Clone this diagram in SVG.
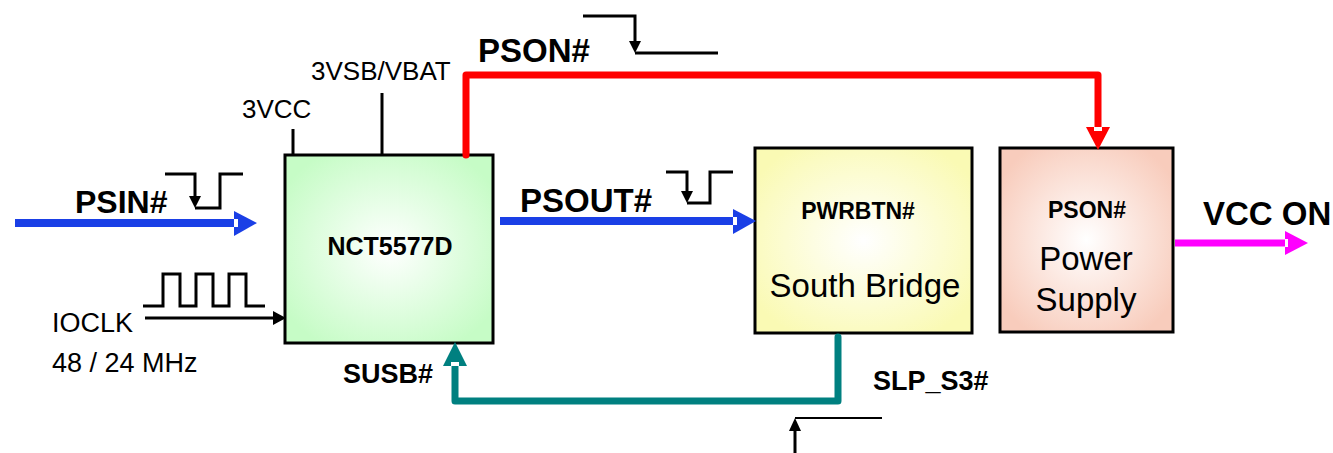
<svg xmlns="http://www.w3.org/2000/svg" width="1333" height="453" viewBox="0 0 1333 453">
<defs>
<radialGradient id="gGreen" cx="0.5" cy="0.5" r="0.6"><stop offset="0" stop-color="#FFFFFF"/><stop offset="1" stop-color="#C6FCC6"/></radialGradient>
<radialGradient id="gYellow" cx="0.5" cy="0.5" r="0.6"><stop offset="0" stop-color="#FFFFFF"/><stop offset="1" stop-color="#FAFAB4"/></radialGradient>
<radialGradient id="gPink" cx="0.5" cy="0.5" r="0.6"><stop offset="0" stop-color="#FFFFFF"/><stop offset="1" stop-color="#F8CCBC"/></radialGradient>
<style>
.box{stroke:#000;stroke-width:3}
.t{font-family:"Liberation Sans",Arial,sans-serif;fill:#000}
.b{font-weight:bold}
.thin{fill:none;stroke:#000;stroke-width:3}
.notch{fill:#fff}
</style>
</defs>
<rect width="1333" height="453" fill="#fff"/>

<g id="nct5577d">
<rect class="box" x="285" y="155" width="208" height="188" fill="url(#gGreen)"/>
<text class="t b" x="390" y="255" font-size="25" text-anchor="middle">NCT5577D</text>
<line class="thin" x1="293" y1="129" x2="293" y2="155"/>
<line class="thin" x1="382" y1="93" x2="382" y2="155"/>
<text class="t" x="242" y="118" font-size="26">3VCC</text>
<text class="t" x="311" y="80" font-size="26">3VSB/VBAT</text>
</g>

<g id="south-bridge">
<rect class="box" x="755" y="148" width="217" height="185" fill="url(#gYellow)"/>
<text class="t b" x="858" y="219" font-size="23" text-anchor="middle">PWRBTN#</text>
<text class="t" x="865" y="297" font-size="33" text-anchor="middle">South Bridge</text>
</g>

<g id="power-supply">
<rect class="box" x="1000" y="148" width="173" height="184" fill="url(#gPink)"/>
<text class="t b" x="1087" y="218" font-size="23" text-anchor="middle">PSON#</text>
<text class="t" x="1086" y="270" font-size="33" text-anchor="middle">Power</text>
<text class="t" x="1086" y="311" font-size="33" text-anchor="middle">Supply</text>
</g>

<g id="connectors">
<!-- PSIN# -->
<line x1="15" y1="223" x2="236" y2="223" stroke="#1A3FE6" stroke-width="8"/>
<polygon points="234,211 234,236 257,223" fill="#1A3FE6"/>
<rect class="notch" x="234" y="219" width="4" height="8"/>
<text class="t b" x="75" y="213" font-size="32">PSIN#</text>
<polyline class="thin" points="165,174 195,174 195,200"/>
<polygon points="189,196 201,196 195,208" fill="#000"/>
<polyline class="thin" points="195,208 220,208 220,174 243,174"/>

<!-- IOCLK -->
<line x1="145" y1="318" x2="276" y2="318" stroke="#000" stroke-width="3"/>
<polygon points="273,311 273,325 286,318" fill="#000"/>
<polyline class="thin" points="143,306 163,306 163,274 180,274 180,306 196,306 196,274 213,274 213,306 229,306 229,274 246,274 246,306 265,306"/>
<text class="t" x="52" y="332" font-size="27">IOCLK</text>
<text class="t" x="52" y="372" font-size="27">48 / 24 MHz</text>

<!-- PSON# red -->
<polyline points="466,155 466,75 1098,75 1098,128" fill="none" stroke="#FF0000" stroke-width="7" stroke-linejoin="round" stroke-linecap="round"/>
<polygon points="1086,127 1110,127 1098,150" fill="#FF0000"/>
<rect class="notch" x="1094" y="127" width="8" height="4"/>
<text class="t b" x="478" y="62" font-size="33">PSON#</text>
<polyline class="thin" points="583,16 635,16 635,44"/>
<polygon points="629,41 641,41 635,53" fill="#000"/>
<polyline class="thin" points="635,53 718,53"/>

<!-- PSOUT# -->
<line x1="500" y1="221" x2="735" y2="221" stroke="#1A3FE6" stroke-width="8"/>
<polygon points="733,209 733,234 756,221" fill="#1A3FE6"/>
<rect class="notch" x="733" y="217" width="4" height="8"/>
<text class="t b" x="520" y="212" font-size="33">PSOUT#</text>
<polyline class="thin" points="666,172 687,172 687,194"/>
<polygon points="681,191 693,191 687,203" fill="#000"/>
<polyline class="thin" points="687,203 710,203 710,172 733,172"/>

<!-- SLP_S3# / SUSB# teal -->
<polyline points="838,337 838,401 455,401 455,366" fill="none" stroke="#008080" stroke-width="7" stroke-linejoin="round" stroke-linecap="round"/>
<polygon points="443,366 467,366 455,342" fill="#008080"/>
<rect class="notch" x="451" y="362" width="8" height="4"/>
<text class="t b" x="343" y="383" font-size="27">SUSB#</text>
<text class="t b" x="873" y="390" font-size="27">SLP_S3#</text>
<line x1="795" y1="418" x2="882" y2="418" stroke="#000" stroke-width="2"/>
<line x1="795" y1="453" x2="795" y2="428" stroke="#000" stroke-width="3"/>
<polygon points="789,431 801,431 795,418" fill="#000"/>

<!-- VCC ON -->
<line x1="1175" y1="243" x2="1287" y2="243" stroke="#FF00FF" stroke-width="7"/>
<polygon points="1285,231 1285,255 1308,243" fill="#FF00FF"/>
<rect class="notch" x="1285" y="239" width="3" height="8"/>
<text class="t b" x="1203" y="225" font-size="33">VCC ON</text>
</g>
</svg>
